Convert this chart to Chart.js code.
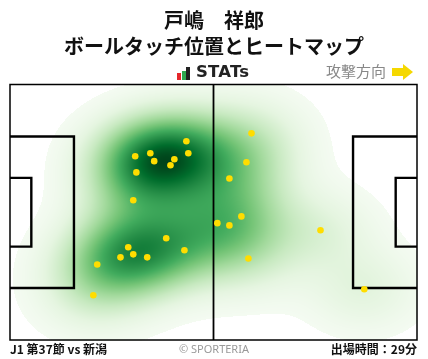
<!DOCTYPE html>
<html><head><meta charset="utf-8">
<script src="https://cdn.jsdelivr.net/npm/chart.js@4.4.0/dist/chart.umd.min.js"></script>
<style>
html,body{margin:0;padding:0;background:#fff;}
#wrap{position:relative;width:428px;height:359px;overflow:hidden;font-family:"Noto Sans CJK JP","Noto Sans",sans-serif;}
canvas{position:absolute;left:0;top:0;}
.t{position:absolute;white-space:nowrap;line-height:1;}
</style></head>
<body>
<div id="wrap">
<canvas id="c" width="428" height="359"></canvas>
<div class="t" style="left:0;width:428px;text-align:center;top:10px;font-size:20px;font-weight:700;color:#111;">戸嶋　祥郎</div>
<div class="t" style="left:0;width:428px;text-align:center;top:36px;font-size:20px;font-weight:700;color:#111;">ボールタッチ位置とヒートマップ</div>
<div class="t" style="left:177px;top:67px;width:14px;height:14px;">
  <span style="position:absolute;left:0;top:6px;width:4px;height:7px;background:#e5262b;"></span>
  <span style="position:absolute;left:4.5px;top:4px;width:4px;height:9px;background:#2fa84f;"></span>
  <span style="position:absolute;left:9px;top:0px;width:4px;height:13px;background:#222;"></span>
</div>
<div class="t" style="left:196px;top:64px;font-family:'DejaVu Sans';font-size:16.5px;font-weight:700;color:#222;letter-spacing:0.2px;">STATs</div>
<div class="t" style="left:326px;top:63px;font-size:15px;color:#888;">攻撃方向</div>
<svg style="position:absolute;left:391px;top:63px;" width="24" height="19"><polygon points="1,5 12,5 12,1 22,9 12,17 12,13 1,13" fill="#f5d800"/></svg>
<div class="t" style="left:10px;top:343px;font-size:12px;font-weight:700;color:#111;">J1 第37節 vs 新潟</div>
<div class="t" style="left:0;width:428px;text-align:center;top:343px;font-size:11px;color:#999;font-family:'Noto Sans',sans-serif;">© SPORTERIA</div>
<div class="t" style="right:11px;top:343px;font-size:12px;font-weight:700;color:#111;">出場時間：29分</div>
</div>
<script>
// pitch coordinates in metres (x: own goal -> attack, y: top -> bottom)
const touchX = [45.5,46.0,36.2,32.3,37.2,42.4,41.4,32.6,31.8,53.5,40.3,30.5,31.8,28.5,35.4,45.0,22.5,21.5,62.3,61.0,56.6,59.7,56.6,80.1,61.5,91.4];
const touchY = [15.1,18.3,18.3,19.1,20.4,19.9,21.5,23.4,30.8,36.9,40.9,43.3,45.2,46.0,46.0,44.1,47.9,56.1,13.0,20.7,25.0,35.1,37.5,38.8,46.3,54.5];
const pitchLength = 105, pitchWidth = 68;

const greens = ['#f7fcf5','#e5f5e0','#c7e9c0','#a1d99b','#74c476','#41ab5d','#238b45','#006d2c','#00441b'].map(h=>[parseInt(h.slice(1,3),16),parseInt(h.slice(3,5),16),parseInt(h.slice(5,7),16)]);
function cmap(t){t=Math.max(0,Math.min(1,t));const p=t*8,i=Math.min(7,Math.floor(p)),f=p-i;const a=greens[i],b=greens[i+1];return [a[0]+(b[0]-a[0])*f,a[1]+(b[1]-a[1])*f,a[2]+(b[2]-a[2])*f];}

function makeKde(xs,ys,adj){
  const n=xs.length;let mx=0,my=0;for(let i=0;i<n;i++){mx+=xs[i];my+=ys[i];}mx/=n;my/=n;
  let sxx=0,syy=0,sxy=0;for(let i=0;i<n;i++){const dx=xs[i]-mx,dy=ys[i]-my;sxx+=dx*dx;syy+=dy*dy;sxy+=dx*dy;}
  sxx/=(n-1);syy/=(n-1);sxy/=(n-1);
  const f=Math.pow(n,-1/6)*adj,f2=f*f;const a=sxx*f2,d=syy*f2,b=sxy*f2;const det=a*d-b*b;
  const ia=d/det,id=a/det,ib=-b/det;
  const fn=(x,y)=>{let s=0;for(let i=0;i<n;i++){const dx=x-xs[i],dy=y-ys[i];s+=Math.exp(-0.5*(ia*dx*dx+2*ib*dx*dy+id*dy*dy));}return s;};
  fn.bw=[Math.sqrt(a),Math.sqrt(d)];return fn;
}

const heatPlugin={id:'heat',beforeDatasetsDraw(chart){
  const {ctx,chartArea:ca,scales:{x:sx,y:sy}}=chart;
  const kde=makeKde(touchX,touchY,1.0);
  const bx=kde.bw[0]*3,by=kde.bw[1]*3;
  const x0=Math.min(...touchX)-bx,x1=Math.max(...touchX)+bx,y0=Math.min(...touchY)-by,y1=Math.max(...touchY)+by;
  const G=150,vals=[];for(let i=0;i<G;i++)for(let j=0;j<G;j++)vals.push(kde(x0+(x1-x0)*i/(G-1),y0+(y1-y0)*j/(G-1)));
  vals.sort((p,q)=>p-q);const tot=vals.reduce((s,v)=>s+v,0);let cum=0,thr=0;
  for(let k=0;k<vals.length;k++){cum+=vals[k];if(cum>=0.018*tot){thr=vals[k];break;}}
  const vmax=vals[vals.length-1];
  const W=Math.round(ca.right-ca.left),H=Math.round(ca.bottom-ca.top);
  const img=ctx.createImageData(W,H);
  for(let py=0;py<H;py++){const yv=sy.getValueForPixel(ca.top+py+0.5);
    for(let px=0;px<W;px++){const xv=sx.getValueForPixel(ca.left+px+0.5);
      const v=kde(xv,yv);const k=(py*W+px)*4;
      if(v<thr){img.data[k+3]=0;continue;}
      const c=cmap(0.02+0.98*(v-thr)/(vmax-thr));img.data[k]=c[0];img.data[k+1]=c[1];img.data[k+2]=c[2];img.data[k+3]=255;}}
  ctx.putImageData(img,Math.round(ca.left),Math.round(ca.top));
  const X=v=>sx.getPixelForValue(v),Y=v=>sy.getPixelForValue(v);
  ctx.save();ctx.strokeStyle='#000';
  ctx.lineWidth=1.5;ctx.strokeRect(X(0),Y(0),X(pitchLength)-X(0),Y(pitchWidth)-Y(0));
  ctx.lineWidth=1.8;ctx.beginPath();ctx.moveTo(X(pitchLength/2),Y(0));ctx.lineTo(X(pitchLength/2),Y(pitchWidth));ctx.stroke();
  ctx.lineWidth=2.4;
  const pb=40.32,gb=18.32;
  const box=(depth,w,right)=>{const ya=(pitchWidth-w)/2,yb=(pitchWidth+w)/2;const xa=right?pitchLength-depth:depth,xe=right?pitchLength:0;
    ctx.beginPath();ctx.moveTo(X(xe),Y(ya));ctx.lineTo(X(xa),Y(ya));ctx.lineTo(X(xa),Y(yb));ctx.lineTo(X(xe),Y(yb));ctx.stroke();};
  box(16.5,pb,false);box(5.5,gb,false);box(16.5,pb,true);box(5.5,gb,true);
  ctx.restore();
}};

new Chart(document.getElementById('c'),{type:'scatter',
  data:{datasets:[{data:touchX.map((x,i)=>({x,y:touchY[i]})),backgroundColor:'#ffdd00',borderWidth:0,pointRadius:3.3,pointHoverRadius:3.3}]},
  options:{responsive:false,animation:false,events:[],
    layout:{padding:{left:10,top:84.5,right:11,bottom:19}},
    scales:{x:{type:'linear',min:0,max:pitchLength,display:false},y:{type:'linear',min:0,max:pitchWidth,reverse:true,display:false}},
    plugins:{legend:{display:false},tooltip:{enabled:false}}},
  plugins:[heatPlugin]});
</script>
</body></html>
